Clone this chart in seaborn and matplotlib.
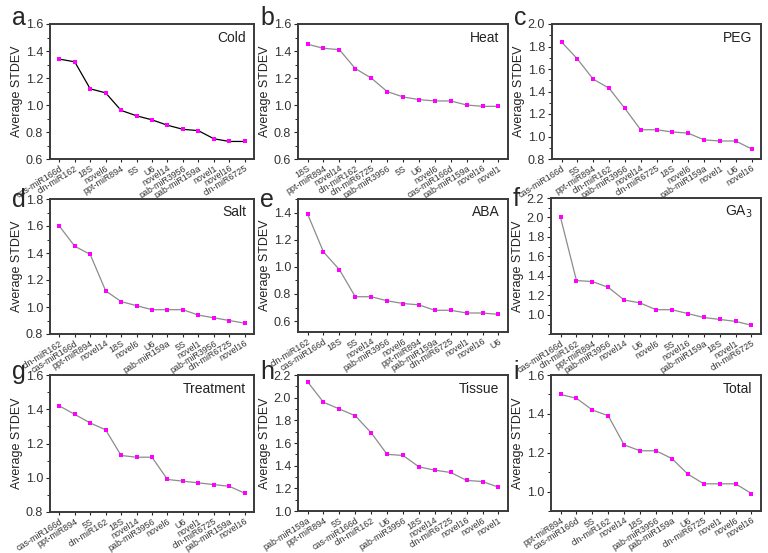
import numpy as np
import pandas as pd
import matplotlib
matplotlib.use("Agg")
import matplotlib.pyplot as plt
import seaborn as sns
from matplotlib.ticker import AutoMinorLocator

sns.set_style("ticks")
plt.rcParams['font.family'] = ['Liberation Sans', 'DejaVu Sans']

# =====================================================
# DATA
# =====================================================
cold_genes = ["cas-miR166d", "cln-miR162", "18S", "novel6", "ppt-miR894", "5S", "U6",
              "novel14", "pab-miR3956", "pab-miR159a", "novel1", "novel16", "cln-miR6725"]
cold_vals = [1.34, 1.32, 1.12, 1.09, 0.96, 0.92, 0.89, 0.85, 0.82, 0.81, 0.75, 0.73, 0.73]

heat_genes = ["18S", "ppt-miR894", "novel14", "cln-miR162", "cln-miR6725", "pab-miR3956", "5S",
              "U6", "novel6", "cas-miR166d", "pab-miR159a", "novel16", "novel1"]
heat_vals = [1.45, 1.42, 1.41, 1.27, 1.20, 1.10, 1.06, 1.04, 1.03, 1.03, 1.00, 0.99, 0.99]

peg_genes = ["cas-miR166d", "5S", "ppt-miR894", "cln-miR162", "pab-miR3956", "novel14",
             "cln-miR6725", "18S", "novel6", "pab-miR159a", "novel1", "U6", "novel16"]
peg_vals = [1.84, 1.69, 1.51, 1.43, 1.25, 1.06, 1.06, 1.04, 1.03, 0.97, 0.96, 0.96, 0.89]

salt_genes = ["cln-miR162", "cas-miR166d", "ppt-miR894", "novel14", "18S", "novel6", "U6",
              "pab-miR159a", "5S", "novel1", "pab-miR3956", "cln-miR6725", "novel16"]
salt_vals = [1.60, 1.45, 1.39, 1.12, 1.04, 1.01, 0.98, 0.98, 0.98, 0.94, 0.92, 0.90, 0.88]

aba_genes = ["cln-miR162", "cas-miR166d", "18S", "5S", "novel14", "pab-miR3956", "novel6",
             "ppt-miR894", "pab-miR159a", "cln-miR6725", "novel1", "novel16", "U6"]
aba_vals = [1.39, 1.11, 0.98, 0.78, 0.78, 0.75, 0.73, 0.72, 0.68, 0.68, 0.66, 0.66, 0.65]

ga3_genes = ["cas-miR166d", "cln-miR162", "ppt-miR894", "pab-miR3956", "novel14", "U6", "novel6",
             "5S", "novel16", "pab-miR159a", "18S", "novel1", "cln-miR6725"]
ga3_vals = [2.00, 1.35, 1.34, 1.28, 1.15, 1.12, 1.05, 1.05, 1.01, 0.97, 0.95, 0.93, 0.89]

treat_genes = ["cas-miR166d", "ppt-miR894", "5S", "cln-miR162", "18S", "novel14", "pab-miR3956",
               "novel6", "U6", "novel1", "cln-miR6725", "pab-miR159a", "novel16"]
treat_vals = [1.42, 1.37, 1.32, 1.28, 1.13, 1.12, 1.12, 0.99, 0.98, 0.97, 0.96, 0.95, 0.91]

tissue_genes = ["pab-miR159a", "ppt-miR894", "5S", "cas-miR166d", "cln-miR162", "U6", "pab-miR3956",
                "18S", "novel14", "cln-miR6725", "novel16", "novel6", "novel1"]
tissue_vals = [2.14, 1.96, 1.90, 1.84, 1.69, 1.50, 1.49, 1.39, 1.36, 1.34, 1.27, 1.26, 1.21]

total_genes = ["ppt-miR894", "cas-miR166d", "5S", "cln-miR162", "novel14", "18S", "pab-miR3956",
               "pab-miR159a", "U6", "cln-miR6725", "novel1", "novel6", "novel16"]
total_vals = [1.50, 1.48, 1.42, 1.39, 1.24, 1.21, 1.21, 1.17, 1.09, 1.04, 1.04, 1.04, 0.99]

panels = [
    ("a", "Cold", cold_genes, cold_vals, (0.6, 1.6), 0.6),
    ("b", "Heat", heat_genes, heat_vals, (0.6, 1.6), 0.6),
    ("c", "PEG", peg_genes, peg_vals, (0.8, 2.0), 0.8),
    ("d", "Salt", salt_genes, salt_vals, (0.8, 1.8), 0.8),
    ("e", "ABA", aba_genes, aba_vals, (0.52, 1.5), 0.6),
    ("f", "GA$_3$", ga3_genes, ga3_vals, (0.8, 2.2), 1.0),
    ("g", "Treatment", treat_genes, treat_vals, (0.8, 1.6), 0.8),
    ("h", "Tissue", tissue_genes, tissue_vals, (1.0, 2.2), 1.0),
    ("i", "Total", total_genes, total_vals, (0.9, 1.6), 1.0),
]

# axes boxes in pixels: left, top, right, bottom
W, H = 768, 553
boxes = [
    (50, 24, 254, 159), (298, 24, 508, 159), (552, 24, 761, 159),
    (50, 199, 254, 334), (298, 199, 508, 332), (551, 198, 761, 334),
    (50, 375, 254, 512), (298, 375, 508, 511), (551, 375, 761, 511),
]
letter_dy = [-6, -6, -6, 1, 1, 1, -3, -3, -3]

fig = plt.figure(figsize=(W / 100, H / 100), dpi=100)

for k, (letter, title, genes, vals, ylim, first_tick) in enumerate(panels):
    l, t, r, b = boxes[k]
    ax = fig.add_axes([l / W, 1 - b / H, (r - l) / W, (b - t) / H])
    df = pd.DataFrame({"gene": genes, "stdev": vals})
    line_color = "black" if k == 0 else "#8c8c8c"
    sns.lineplot(data=df, x="gene", y="stdev", sort=False, ax=ax,
                 color=line_color, linewidth=0.9)
    sns.scatterplot(data=df, x="gene", y="stdev", ax=ax, marker="s",
                    color="#ff00ff", s=9, linewidth=0, zorder=3)
    ax.set_xlim(-0.6, len(genes) - 0.4)
    ax.set_ylim(*ylim)
    ax.set_yticks(np.arange(first_tick, ylim[1] + 0.001, 0.2))
    ax.yaxis.set_minor_locator(AutoMinorLocator(2))
    ax.set_xlabel("")
    ax.set_ylabel("Average STDEV", fontsize=9, labelpad=2, color="#222222")
    ax.tick_params(axis="y", labelsize=9, length=3, width=0.8, pad=2)
    ax.tick_params(axis="y", which="minor", length=2, width=0.7)
    ax.tick_params(axis="x", length=2.5, width=0.8, pad=1)
    for lab in ax.get_yticklabels():
        lab.set_color("#333333")
    ax.set_xticks(range(len(genes)))
    ax.set_xticklabels(genes, rotation=32, ha="right", rotation_mode="anchor",
                       fontsize=6.4, color="#333333")
    for sp in ax.spines.values():
        sp.set_linewidth(1.4)
        sp.set_color("#3a3a3a")
    ax.text(0.96, 0.9, title, transform=ax.transAxes, ha="right", va="center",
            fontsize=10, color="#222222")
    fig.text((l - 38) / W, 1 - (t + letter_dy[k]) / H, letter, fontsize=18,
             ha="left", va="center")

fig.savefig("out.png", dpi=100)
